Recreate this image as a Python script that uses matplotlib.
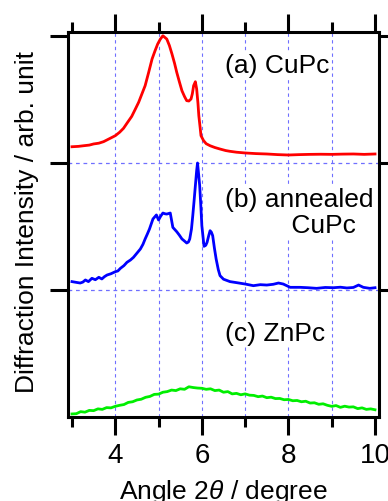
import matplotlib

matplotlib.use("Agg")
import matplotlib.pyplot as plt

plt.rcParams["font.family"] = ["Liberation Sans", "DejaVu Sans"]
plt.rcParams["mathtext.fontset"] = "custom"
plt.rcParams["mathtext.rm"] = "Liberation Sans"
plt.rcParams["mathtext.it"] = "Liberation Sans:italic"

# --- Daten (Intensität je Panel normiert) ---
cupc_angle = [3.00, 3.15, 3.27, 3.40, 3.50, 3.62, 3.73, 3.88, 4.00, 4.10,
              4.19, 4.28, 4.38, 4.46, 4.54, 4.62, 4.69, 4.77, 4.85, 4.92,
              4.98, 5.04, 5.10, 5.19, 5.25, 5.31, 5.37, 5.42, 5.48, 5.54,
              5.60, 5.65, 5.70, 5.75, 5.78, 5.81, 5.85, 5.88, 5.91, 5.93,
              5.96, 5.98, 6.04, 6.10, 6.19, 6.30, 6.42, 6.55, 6.65, 6.80,
              7.00, 7.25, 7.50, 7.75, 8.00, 8.25, 8.50, 8.75, 9.00, 9.25,
              9.50, 9.75, 10.00]
cupc_int = [0.128, 0.131, 0.136, 0.141, 0.150, 0.156, 0.168, 0.194, 0.215, 0.242,
            0.273, 0.318, 0.367, 0.422, 0.478, 0.548, 0.609, 0.712, 0.819, 0.885,
            0.937, 0.975, 1.002, 0.976, 0.925, 0.858, 0.784, 0.714, 0.640, 0.569,
            0.523, 0.491, 0.488, 0.504, 0.545, 0.609, 0.640, 0.583, 0.470, 0.372,
            0.280, 0.215, 0.176, 0.152, 0.136, 0.122, 0.110, 0.098, 0.092, 0.085,
            0.079, 0.074, 0.071, 0.066, 0.063, 0.066, 0.068, 0.069, 0.068, 0.070,
            0.071, 0.068, 0.071]

annealed_angle = [3.00, 3.10, 3.19, 3.25, 3.31, 3.38, 3.46, 3.54, 3.62, 3.69,
                  3.75, 3.81, 3.90, 4.00, 4.06, 4.12, 4.20, 4.27, 4.35, 4.42,
                  4.50, 4.58, 4.64, 4.69, 4.74, 4.79, 4.87, 4.95, 5.00, 5.05,
                  5.10, 5.15, 5.19, 5.27, 5.30, 5.33, 5.42, 5.48, 5.54, 5.60,
                  5.65, 5.69, 5.72, 5.76, 5.79, 5.82, 5.85, 5.88, 5.90, 5.92,
                  5.95, 5.98, 6.00, 6.05, 6.09, 6.12, 6.16, 6.19, 6.22, 6.25,
                  6.29, 6.33, 6.38, 6.42, 6.50, 6.65, 6.80, 7.00, 7.19, 7.35,
                  7.50, 7.65, 7.77, 7.88, 8.04, 8.27, 8.45, 8.65, 8.85, 9.04,
                  9.20, 9.35, 9.50, 9.62, 9.73, 9.88, 10.00]
annealed_int = [0.066, 0.060, 0.055, 0.062, 0.079, 0.066, 0.092, 0.081, 0.100, 0.087,
                0.105, 0.118, 0.128, 0.144, 0.150, 0.171, 0.192, 0.218, 0.236, 0.257,
                0.290, 0.323, 0.360, 0.402, 0.440, 0.480, 0.559, 0.591, 0.551, 0.582,
                0.606, 0.600, 0.598, 0.606, 0.550, 0.493, 0.459, 0.432, 0.402, 0.385,
                0.370, 0.378, 0.402, 0.480, 0.585, 0.700, 0.821, 0.940, 1.000, 0.930,
                0.821, 0.640, 0.506, 0.344, 0.352, 0.375, 0.430, 0.467, 0.455, 0.428,
                0.330, 0.244, 0.160, 0.113, 0.085, 0.066, 0.058, 0.047, 0.034, 0.042,
                0.039, 0.045, 0.055, 0.047, 0.021, 0.021, 0.018, 0.013, 0.020, 0.018,
                0.022, 0.016, 0.020, 0.039, 0.021, 0.013, 0.018]

znpc_angle = [3.0, 3.1, 3.2, 3.3, 3.4, 3.5, 3.6, 3.7, 3.8, 3.9,
              4.0, 4.1, 4.2, 4.3, 4.4, 4.5, 4.6, 4.7, 4.8, 4.9,
              5.0, 5.1, 5.2, 5.3, 5.4, 5.5, 5.6, 5.7, 5.8, 5.9,
              6.0, 6.1, 6.2, 6.3, 6.4, 6.5, 6.6, 6.7, 6.8, 6.9,
              7.0, 7.1, 7.2, 7.3, 7.4, 7.5, 7.6, 7.7, 7.8, 7.9,
              8.0, 8.1, 8.2, 8.3, 8.4, 8.5, 8.6, 8.7, 8.8, 8.9,
              9.0, 9.1, 9.2, 9.3, 9.4, 9.5, 9.6, 9.7, 9.8, 9.9, 10.0]
znpc_int = [0.024, 0.026, 0.042, 0.038, 0.052, 0.050, 0.064, 0.060, 0.074, 0.072,
            0.084, 0.092, 0.098, 0.115, 0.120, 0.134, 0.140, 0.155, 0.162, 0.178,
            0.180, 0.195, 0.200, 0.212, 0.208, 0.222, 0.218, 0.238, 0.232, 0.228,
            0.226, 0.218, 0.222, 0.208, 0.212, 0.195, 0.200, 0.182, 0.186, 0.175,
            0.182, 0.172, 0.170, 0.160, 0.165, 0.152, 0.156, 0.145, 0.146, 0.136,
            0.138, 0.128, 0.130, 0.120, 0.124, 0.110, 0.112, 0.100, 0.104, 0.092,
            0.084, 0.090, 0.076, 0.085, 0.078, 0.080, 0.066, 0.072, 0.060, 0.064,
            0.057]

panel_labels = ["(a) CuPc", "(b) annealed\n         CuPc", "(c) ZnPc"]
major_ticks = [4, 6, 8, 10]
minor_ticks = [3, 5, 7, 9]
grid_x = [4, 5, 6, 7, 8, 9]

# --- Stil ---
W, H = 388, 502
X_LIM = (2.908, 10.092)
GRID_COLOR = "#6f6fff"
LW_AXIS = 2.2
FS_LABEL = 19

fig = plt.figure(figsize=(W / 100, H / 100), dpi=100, facecolor="white")


def px_axes(top, bottom):
    """Axes über Pixelgrenzen (von oben gemessen) anlegen."""
    return fig.add_axes([68 / W, 1 - bottom / H, (379 - 68) / W, (bottom - top) / H])


ax_a = px_axes(33, 164)
ax_b = px_axes(164, 291)
ax_c = px_axes(291, 418)
axes = [ax_a, ax_b, ax_c]

series = [
    (cupc_angle, cupc_int, "#ff0000"),
    (annealed_angle, annealed_int, "#0000ff"),
    (znpc_angle, znpc_int, "#00ee00"),
]
label_y = [0.772, 0.614, 0.661]

for ax, (xs, ys, color), label, ly in zip(axes, series, panel_labels, label_y):
    ax.set_xlim(*X_LIM)
    ax.set_facecolor("none")
    for gx in grid_x:
        ax.axvline(gx, color=GRID_COLOR, lw=0.8, ls=(0, (3, 3)), zorder=1)
    ax.plot(xs, ys, color=color, lw=2.0, zorder=4, clip_on=False)
    ax.text(6.54, ly, label, fontsize=FS_LABEL, ha="left", va="center",
            linespacing=1.15, zorder=3,
            bbox=dict(facecolor="white", edgecolor="none", pad=1.0))

    ax.set_yticks([1.0])
    ax.tick_params(axis="y", which="both", direction="out", left=True, right=True,
                   length=13, width=LW_AXIS, labelleft=False, labelright=False)
    for side in ("left", "right"):
        ax.spines[side].set_linewidth(LW_AXIS)
    ax.spines["top"].set_visible(False)
    ax.spines["bottom"].set_visible(False)
    ax.set_xticks(major_ticks)
    ax.set_xticks(minor_ticks, minor=True)
    ax.tick_params(axis="x", which="both", top=False, bottom=False,
                   labelbottom=False, labeltop=False)

ax_a.set_ylim(0, 131 / 127)
ax_b.set_ylim(0, 1)
ax_c.set_ylim(0, 1)

# Panel-Grenzen als gepunktete Linien
for ax in (ax_b, ax_c):
    ax.axhline(1.0, color=GRID_COLOR, lw=0.9, ls=(0, (3, 3)), zorder=1,
               clip_on=False)

# oben: Achse mit Ticks ohne Beschriftung
ax_a.spines["top"].set_visible(True)
ax_a.spines["top"].set_linewidth(LW_AXIS)
ax_a.tick_params(axis="x", which="major", top=True, direction="out",
                 length=13, width=LW_AXIS)
ax_a.tick_params(axis="x", which="minor", top=True, direction="out",
                 length=7, width=LW_AXIS)

# unten: Achse mit Beschriftung
ax_c.spines["bottom"].set_visible(True)
ax_c.spines["bottom"].set_linewidth(LW_AXIS)
ax_c.tick_params(axis="x", which="major", bottom=True, direction="out",
                 length=13, width=LW_AXIS, labelbottom=True, labelsize=20, pad=5)
ax_c.tick_params(axis="x", which="minor", bottom=True, direction="out",
                 length=7, width=LW_AXIS)

fig.text(223 / W, 2.5 / H, "Angle 2$\\theta$ / degree", ha="center",
         va="baseline", fontsize=19)
fig.text(27 / W, 1 - 222 / H, "Diffraction Intensity / arb. unit", rotation=90,
         ha="center", va="center", fontsize=19)

fig.savefig("out.png", dpi=100, facecolor="white")
